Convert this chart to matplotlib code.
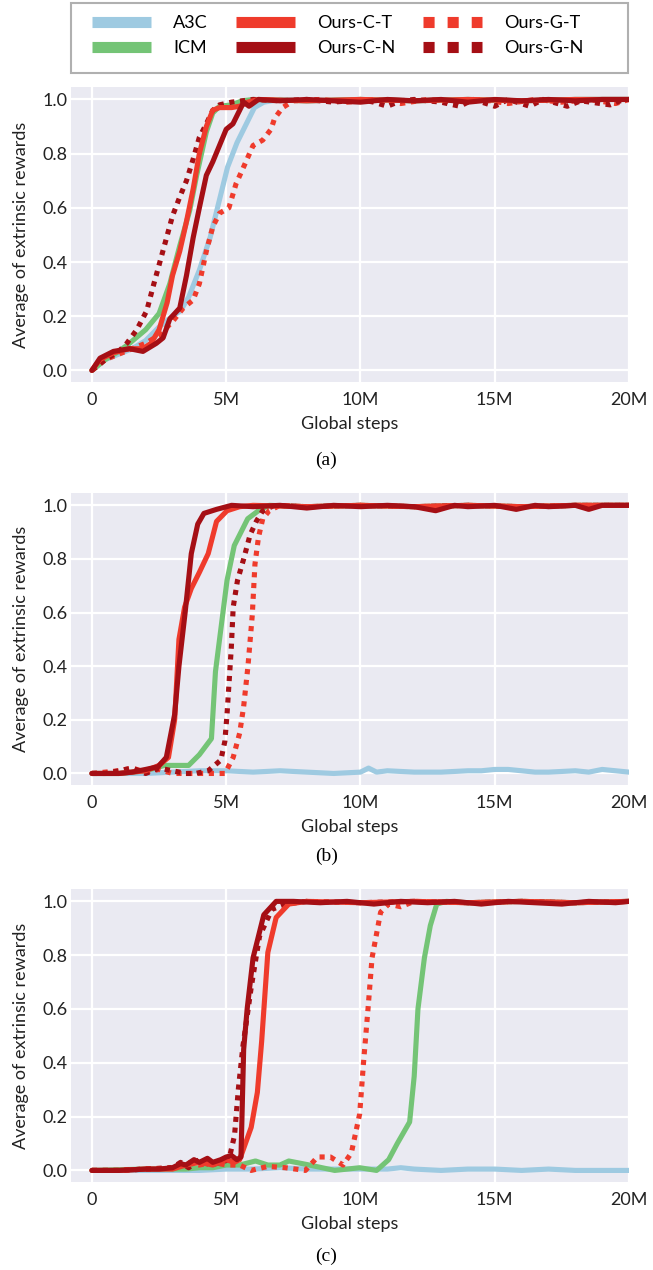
import matplotlib.pyplot as plt
from matplotlib.lines import Line2D
from matplotlib.patches import Rectangle

plt.rcParams['font.family'] = ['Lato', 'DejaVu Sans']

# x values in millions of global steps

# panel (a)
a_a3c_x = [0, 0.5, 1.0, 1.5, 2.0, 2.5, 3.0, 3.3, 3.6, 4.0, 4.4, 4.75, 5.05, 5.4, 5.75, 6.05, 6.4, 7, 8, 10, 12, 14, 16, 18, 20]
a_a3c_y = [0, 0.04, 0.06, 0.08, 0.11, 0.16, 0.2, 0.22, 0.27, 0.37, 0.49, 0.63, 0.75, 0.84, 0.91, 0.97, 0.99, 1.0, 0.995, 1.0, 0.995, 1.0, 0.995, 1.0, 1.0]
a_icm_x = [0, 0.5, 1.0, 1.4, 2.0, 2.5, 2.9, 3.27, 3.64, 3.9, 4.26, 4.5, 4.75, 5.2, 5.6, 6, 8, 10, 12, 14, 16, 18, 20]
a_icm_y = [0, 0.04, 0.07, 0.1, 0.15, 0.21, 0.32, 0.46, 0.59, 0.72, 0.88, 0.95, 0.975, 0.98, 0.995, 1.0, 0.995, 1.0, 0.995, 1.0, 0.995, 1.0, 1.0]
a_ct_x = [0, 0.3, 0.8, 1.4, 1.9, 2.2, 2.5, 2.8, 3.0, 3.27, 3.5, 3.77, 4.0, 4.26, 4.5, 4.75, 5.2, 5.5, 5.8, 6.2, 8, 10, 12, 14, 16, 18, 20]
a_ct_y = [0, 0.04, 0.065, 0.08, 0.08, 0.1, 0.15, 0.25, 0.35, 0.44, 0.54, 0.67, 0.8, 0.9, 0.96, 0.97, 0.97, 0.975, 0.99, 1.0, 0.995, 1.0, 0.995, 1.0, 0.995, 1.0, 1.0]
a_cn_x = [0, 0.3, 0.8, 1.4, 1.9, 2.4, 2.65, 2.9, 3.27, 3.52, 3.77, 4.0, 4.26, 4.5, 4.75, 5.0, 5.25, 5.5, 5.65, 5.85,
          6.2, 7, 8, 9, 10, 11, 12, 13, 14, 15, 16, 17, 18, 19, 20]
a_cn_y = [0, 0.045, 0.07, 0.08, 0.07, 0.1, 0.12, 0.19, 0.23, 0.35, 0.49, 0.6, 0.72, 0.77, 0.83, 0.89, 0.91, 0.96, 0.99, 0.975,
          1.0, 0.995, 1.0, 0.995, 0.99, 1.0, 0.995, 1.0, 0.99, 1.0, 0.995, 1.0, 0.995, 1.0, 1.0]
a_gt_x = [0, 0.5, 1.0, 1.5, 2.0, 2.5, 3.0, 3.4, 3.77, 4.0, 4.26, 4.5, 4.75, 5.1, 5.37, 5.6, 6.0, 6.36, 6.67, 6.8,
          7.1, 7.5, 8.5, 9.5, 10.5, 11.5, 12.5, 13.5, 14.5, 15.5, 16.5, 17.5, 18.5, 19.5, 20]
a_gt_y = [0, 0.04, 0.06, 0.08, 0.1, 0.13, 0.18, 0.23, 0.26, 0.32, 0.44, 0.53, 0.58, 0.6, 0.69, 0.74, 0.83, 0.85, 0.89, 0.93,
          0.97, 0.995, 1.0, 0.99, 1.0, 0.985, 1.0, 0.99, 1.0, 0.985, 1.0, 0.99, 1.0, 0.985, 1.0]
a_gn_x = [0, 0.5, 1.0, 1.3, 1.67, 2.04, 2.28, 2.53, 2.78, 3.0, 3.27, 3.52, 3.77, 4.0, 4.26, 4.5, 4.75, 5.2, 6, 7,
          8, 9, 10, 10.5, 11, 11.5, 12, 13, 13.7, 14.2, 15, 15.5, 16.3, 16.8, 17.7, 18.2, 19.3, 19.8]
a_gn_y = [0, 0.04, 0.07, 0.1, 0.15, 0.22, 0.31, 0.4, 0.49, 0.57, 0.64, 0.7, 0.78, 0.86, 0.91, 0.96, 0.98, 0.99, 1.0, 0.995,
          1.0, 0.99, 1.0, 0.99, 0.975, 0.995, 1.0, 0.99, 0.975, 1.0, 0.975, 1.0, 0.975, 1.0, 0.975, 0.995, 0.98, 1.0]

# panel (b)
b_a3c_x = [0, 1, 2, 3, 4, 5, 6, 7, 8, 9, 10, 10.3, 10.6, 11, 12, 13, 14, 14.5, 15, 15.5, 16, 16.5, 17, 18, 18.5, 19, 19.5, 20]
b_a3c_y = [0, 0, 0, 0.005, 0.01, 0.01, 0.005, 0.01, 0.005, 0.0, 0.005, 0.02, 0.005, 0.01, 0.005, 0.005, 0.01, 0.01,
           0.015, 0.015, 0.01, 0.005, 0.005, 0.01, 0.005, 0.015, 0.01, 0.005]
b_icm_x = [0, 1, 2, 2.7, 3.6, 4.0, 4.45, 4.6, 5.03, 5.3, 5.8, 6.2, 6.6, 8, 10, 12, 14, 16, 18, 20]
b_icm_y = [0, 0, 0.01, 0.03, 0.03, 0.07, 0.13, 0.38, 0.72, 0.85, 0.95, 0.98, 1.0, 0.995, 1.0, 0.995, 1.0, 0.995, 1.0, 1.0]
b_ct_x = [0, 1, 2, 2.5, 2.85, 3.08, 3.24, 3.45, 3.7, 4.0, 4.33, 4.64, 5.03, 5.5, 6, 8, 10, 12, 14, 16, 18, 20]
b_ct_y = [0, 0, 0.01, 0.03, 0.06, 0.2, 0.5, 0.62, 0.69, 0.75, 0.82, 0.94, 0.98, 0.995, 1.0, 0.995, 1.0, 0.995, 1.0, 0.995, 1.0, 1.0]
b_cn_x = [0, 1, 1.5, 2, 2.46, 2.77, 3.08, 3.24, 3.47, 3.7, 3.94, 4.17, 4.64, 5.2, 6, 7, 8, 9, 10, 11,
          12, 12.8, 13.5, 14, 15, 15.8, 16.5, 17, 18, 18.5, 19, 20]
b_cn_y = [0, 0, 0.005, 0.015, 0.025, 0.06, 0.22, 0.4, 0.6, 0.82, 0.93, 0.97, 0.985, 1.0, 0.995, 1.0, 0.99, 1.0, 0.995, 1.0,
          0.995, 0.98, 1.0, 0.995, 1.0, 0.985, 1.0, 0.995, 1.0, 0.985, 1.0, 1.0]
b_gt_x = [0, 0.5, 1, 1.5, 2, 2.5, 3, 3.5, 4, 4.5, 4.95, 5.26, 5.5, 5.65, 5.81, 5.97, 6.07, 6.2, 6.36, 6.6, 7, 8, 10, 12, 14, 16, 18, 20]
b_gt_y = [0, 0.005, 0.01, 0.02, 0.005, 0.015, 0.0, 0.0, 0.0, 0.0, 0.0, 0.06, 0.15, 0.25, 0.4, 0.59, 0.78, 0.88, 0.95, 0.98,
          1.0, 0.995, 1.0, 0.995, 1.0, 0.995, 1.0, 1.0]
b_gn_x = [0, 0.5, 1, 1.5, 2, 2.5, 3, 3.5, 3.86, 4.33, 4.8, 4.95, 5.03, 5.19, 5.26, 5.42, 5.65, 5.89, 6.12, 6.36, 6.8, 8, 10, 12, 14, 16, 18, 20]
b_gn_y = [0, 0, 0.01, 0.02, 0.0, 0.02, 0.01, 0.0, 0.0, 0.01, 0.05, 0.12, 0.22, 0.47, 0.62, 0.72, 0.8, 0.89, 0.94, 0.98,
          1.0, 0.995, 1.0, 0.995, 1.0, 0.995, 1.0, 1.0]

# panel (c)
c_a3c_x = [0, 2, 4, 5, 6, 7, 8, 9, 10, 11, 11.5, 12, 13, 14, 15, 16, 17, 18, 19, 20]
c_a3c_y = [0, 0, 0, 0.005, 0.005, 0.01, 0.005, 0.005, 0.005, 0.005, 0.01, 0.005, 0.0, 0.005, 0.005, 0.0, 0.005, 0.0, 0.0, 0.0]
c_icm_x = [0, 2, 3, 3.5, 4, 4.5, 5, 5.5, 6.09, 6.55, 7.0, 7.33, 8.1, 9.04, 9.97, 10.6, 11.05, 11.37, 11.83, 12.0,
           12.14, 12.38, 12.6, 12.84, 13.2, 14, 16, 18, 20]
c_icm_y = [0, 0.005, 0.005, 0.005, 0.01, 0.01, 0.02, 0.02, 0.035, 0.02, 0.02, 0.035, 0.02, 0.0, 0.01, 0.0, 0.04, 0.1, 0.18, 0.35,
           0.6, 0.79, 0.91, 0.99, 1.0, 0.995, 1.0, 0.995, 1.0]
c_ct_x = [0, 1, 2, 3, 3.5, 4, 4.5, 5, 5.3, 5.5, 5.93, 6.16, 6.32, 6.55, 6.86, 7.33, 8, 10, 12, 14, 16, 18, 20]
c_ct_y = [0, 0, 0.005, 0.005, 0.02, 0.03, 0.02, 0.04, 0.03, 0.04, 0.16, 0.29, 0.48, 0.81, 0.94, 0.99, 1.0, 0.995, 1.0, 0.995, 1.0, 0.995, 1.0]
c_cn_x = [0, 1, 2, 2.5, 3, 3.3, 3.5, 3.8, 4, 4.3, 4.5, 4.8, 5, 5.2, 5.4, 5.55, 5.65, 5.78, 6.0, 6.4,
          6.86, 7.5, 8.5, 9.5, 10.5, 11.5, 12.5, 13.5, 14.5, 15.5, 16.5, 17.5, 18.5, 19.5, 20]
c_cn_y = [0, 0, 0.005, 0.005, 0.01, 0.025, 0.02, 0.04, 0.03, 0.045, 0.03, 0.04, 0.05, 0.055, 0.04, 0.05, 0.45, 0.6, 0.79, 0.95,
          1.0, 1.0, 0.995, 1.0, 0.99, 1.0, 0.995, 1.0, 0.99, 1.0, 0.995, 0.99, 1.0, 0.995, 1.0]
c_gt_x = [0, 1, 2, 3, 3.5, 4, 4.5, 5, 5.5, 5.93, 6.55, 7.2, 7.95, 8.4, 8.88, 9.35, 9.66, 9.97, 10.12, 10.28,
          10.43, 10.75, 11.05, 11.5, 12, 14, 16, 18, 20]
c_gt_y = [0, 0, 0.005, 0.01, 0.03, 0.02, 0.03, 0.02, 0.02, 0.0, 0.015, 0.01, 0.0, 0.05, 0.05, 0.02, 0.065, 0.21, 0.41, 0.6,
          0.79, 0.96, 0.99, 0.98, 1.0, 0.995, 1.0, 0.995, 1.0]
c_gn_x = [0, 1, 2, 3, 3.3, 3.6, 4, 4.4, 4.8, 5.1, 5.31, 5.45, 5.62, 5.93, 6.24, 6.7, 7.2, 8, 10, 12, 14, 16, 18, 20]
c_gn_y = [0, 0, 0.005, 0.01, 0.03, 0.01, 0.04, 0.02, 0.03, 0.04, 0.13, 0.3, 0.46, 0.68, 0.87, 0.97, 0.99, 1.0,
          0.995, 1.0, 0.995, 1.0, 0.995, 1.0]

labels = ['A3C', 'ICM', 'Ours-C-T', 'Ours-C-N', 'Ours-G-T', 'Ours-G-N']
colors = ['#9ecae1', '#74c476', '#ef3b2c', '#a50f15', '#ef3b2c', '#a50f15']
dotted = [False, False, False, False, True, True]

xticks = [0, 5, 10, 15, 20]
xticklabels = ['0', '5M', '10M', '15M', '20M']
yticks = [0.0, 0.2, 0.4, 0.6, 0.8, 1.0]

panels = [
    ('(a)', [(a_a3c_x, a_a3c_y), (a_icm_x, a_icm_y), (a_ct_x, a_ct_y), (a_cn_x, a_cn_y), (a_gt_x, a_gt_y), (a_gn_x, a_gn_y)]),
    ('(b)', [(b_a3c_x, b_a3c_y), (b_icm_x, b_icm_y), (b_ct_x, b_ct_y), (b_cn_x, b_cn_y), (b_gt_x, b_gt_y), (b_gn_x, b_gn_y)]),
    ('(c)', [(c_a3c_x, c_a3c_y), (c_icm_x, c_icm_y), (c_ct_x, c_ct_y), (c_cn_x, c_cn_y), (c_gt_x, c_gt_y), (c_gn_x, c_gn_y)]),
]

# axes rectangles [left, bottom, width, height] and caption heights
rects = [[0.1083, 0.6992, 0.855, 0.2323],
         [0.1083, 0.3819, 0.855, 0.2299],
         [0.1083, 0.0693, 0.855, 0.2307]]
caption_y = [1 - 460 / 1270, 1 - 856 / 1270, 1 - 1256 / 1270]
draw_order = [0, 1, 4, 5, 2, 3]

fig = plt.figure(figsize=(6.53, 12.7), dpi=100)

for (cap, series), rect, cy in zip(panels, rects, caption_y):
    ax = fig.add_axes(rect)
    ax.set_facecolor('#eaeaf2')
    for s in ax.spines.values():
        s.set_visible(False)
    ax.grid(True, color='white', lw=1.6)
    ax.set_axisbelow(True)
    for i in draw_order:
        x, y = series[i]
        if dotted[i]:
            ax.plot(x, y, color=colors[i], lw=3.7, linestyle=(0, (1, 1.1)), dash_capstyle='butt')
        else:
            ax.plot(x, y, color=colors[i], lw=3.7, solid_capstyle='round', solid_joinstyle='round')
    ax.set_xlim(-0.79, 19.93)
    ax.set_ylim(-0.043, 1.046)
    ax.set_xticks(xticks)
    ax.set_xticklabels(xticklabels)
    ax.set_yticks(yticks)
    ax.set_yticklabels(['%.1f' % v for v in yticks])
    ax.tick_params(length=0, labelsize=13, labelcolor='#222222')
    ax.tick_params(axis='x', pad=7)
    ax.tick_params(axis='y', pad=2)
    ax.set_xlabel('Global steps', fontsize=13, color='#222222')
    ax.set_ylabel('Average of extrinsic rewards', fontsize=13, color='#222222')
    ax.xaxis.set_label_coords(0.5, -0.115)
    ax.yaxis.set_label_coords(-0.075, 0.5)
    fig.text(0.5, cy, cap, ha='center', va='center', fontsize=14, family='Liberation Serif')

# legend
handles = []
for c, d in zip(colors, dotted):
    if d:
        handles.append(Line2D([], [], color=c, lw=8, linestyle=(0, (1, 1.17)), dash_capstyle='butt'))
    else:
        handles.append(Line2D([], [], color=c, lw=8, solid_capstyle='butt'))
fig.legend(handles, labels, ncol=3, loc='upper left', bbox_to_anchor=(92 / 653, 1 - 15 / 1270),
           frameon=False, fontsize=13, handlelength=3.27, handletextpad=1.22, labelspacing=0.5,
           columnspacing=1.55, borderpad=0, borderaxespad=0)
fig.patches.append(Rectangle((71 / 653, 1 - 72.7 / 1270), 557 / 653, 69.4 / 1270, transform=fig.transFigure,
                             fill=False, edgecolor='#b0b0b0', lw=1.5))

fig.savefig('out.png', dpi=100)
